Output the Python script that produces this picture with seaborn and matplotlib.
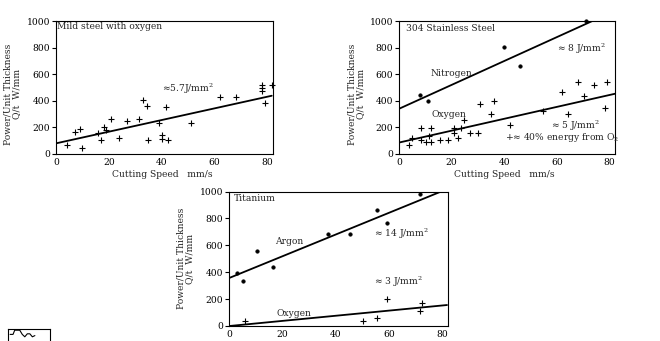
import matplotlib
matplotlib.use("Agg")
import matplotlib.pyplot as plt
import seaborn as sns
import pandas as pd

# ---------------- data ----------------
# Mild steel with oxygen
mild_x = [4, 7, 9, 10, 16, 17, 18, 19, 21, 24, 27, 31.5, 33, 34.5, 35, 39, 40, 40, 41.5, 42.5,
          51, 62, 68, 78, 78, 78, 79, 81.7]
mild_y = [65, 165, 185, 45, 160, 105, 205, 180, 265, 120, 245, 265, 405, 360, 105, 230, 145, 110,
          350, 105, 230, 428, 428, 520, 495, 470, 385, 520]
mild_fit_x = [0, 81.7]
mild_fit_y = [80, 438]

# 304 stainless steel
ss_n_x = [8, 11, 40, 46, 71]
ss_n_y = [440, 398, 805, 660, 1000]
ss_n_fit_x = [0, 73.4]
ss_n_fit_y = [340, 1000]
ss_o_x = [3.8, 5.1, 8.5, 8.5, 10.2, 11.4, 12.3, 12.3, 15.5, 18.7, 20.8, 20.8, 22.5, 23.7, 24.6,
          26.9, 30.1, 30.7, 34.8, 36, 42.2, 54.6, 61.8, 64.1, 67.9, 70.1, 73.9, 78.1, 79.1]
ss_o_y = [68, 118, 199, 106, 88, 136, 88, 199, 106, 106, 199, 156, 118, 199, 257,
          156, 156, 375, 300, 400, 217, 320, 468, 300, 544, 438, 519, 343, 544]
ss_o_fit_x = [0, 82]
ss_o_fit_y = [86, 453]

# Titanium
ti_ar_x = [2.8, 5, 10.3, 16.5, 36.9, 45.3, 55.6, 59.4, 71.6]
ti_ar_y = [392, 337, 560, 436, 684, 684, 862, 763, 981]
ti_ar_fit_x = [0, 79.6]
ti_ar_fit_y = [358, 1000]
ti_o_x = [5.9, 50.3, 55.3, 59.4, 71.5, 72.5]
ti_o_y = [35, 35, 62, 198, 111, 173]
ti_o_fit_x = [0, 81.8]
ti_o_fit_y = [0, 156]

x_ticks = [0, 20, 40, 60, 80]
y_ticks = [0, 200, 400, 600, 800, 1000]

sketch_x = [0.05, 0.12, 0.16, 0.2, 0.28, 0.34, 0.4, 0.46, 0.52, 0.58, 0.64]
sketch_y = [0.55, 0.55, 0.9, 0.9, 0.9, 0.55, 0.35, 0.6, 0.6, 0.35, 0.45]

# ---------------- style ----------------
sns.set_theme(style="white")
plt.rcParams["font.family"] = ["DejaVu Serif"]
plt.rcParams["mathtext.fontset"] = "dejavuserif"
FS = 6.6

fig = plt.figure(figsize=(6.6, 3.41), dpi=100)
fig.patch.set_facecolor("white")

ax1 = fig.add_axes([0.0841, 0.5484, 0.3288, 0.3900])
ax2 = fig.add_axes([0.6038, 0.5484, 0.3280, 0.3900])
ax3 = fig.add_axes([0.3470, 0.0440, 0.3311, 0.3944])

def style_axis(ax, ylab_x, ylab_y, xlabel=True):
    ax.set_xlim(-0.2, 82)
    ax.set_ylim(0, 1000)
    ax.set_xticks(x_ticks)
    ax.set_yticks(y_ticks)
    ax.set_xticklabels([str(v) for v in x_ticks])
    ax.set_yticklabels([str(v) for v in y_ticks])
    for s in ax.spines.values():
        s.set_visible(True)
        s.set_color("black")
        s.set_linewidth(0.8)
    ax.tick_params(axis="y", direction="out", length=3, width=0.8, pad=1,
                   labelsize=FS, colors="black", left=True)
    ax.tick_params(axis="x", direction="out", length=0, pad=3,
                   labelsize=FS, colors="black", bottom=True)
    ax.set_ylabel("Power/Unit Thickness\nQ/t  W/mm", fontsize=FS, linespacing=0.95)
    ax.yaxis.set_label_coords(ylab_x, ylab_y)
    if xlabel:
        ax.set_xlabel("Cutting Speed   mm/s", fontsize=FS)
        ax.xaxis.set_label_coords(0.49, -0.12)
    else:
        ax.set_xlabel("")
    ax.set_facecolor("white")

def cross(ax, x, y):
    sns.scatterplot(x=x, y=y, ax=ax, marker="+", s=16, color="black", linewidth=0.8,
                    legend=False, clip_on=False, zorder=3)

def dots(ax, x, y):
    sns.scatterplot(x=x, y=y, ax=ax, marker="o", s=7, color="black", edgecolor="black",
                    linewidth=0.3, legend=False, clip_on=False, zorder=3)

def fit(ax, x, y):
    sns.lineplot(x=x, y=y, ax=ax, color="black", linewidth=1.3, legend=False)

# Panel 1
cross(ax1, mild_x, mild_y)
fit(ax1, mild_fit_x, mild_fit_y)
style_axis(ax1, -0.158, 0.45)
ax1.text(0.005, 0.995, "Mild steel with oxygen", transform=ax1.transAxes, ha="left", va="top", fontsize=FS)
ax1.text(40.3, 489, r"≈5.7J/mm$^2$", ha="left", va="center", fontsize=FS)

# Panel 2
dots(ax2, ss_n_x, ss_n_y)
cross(ax2, ss_o_x, ss_o_y)
fit(ax2, ss_n_fit_x, ss_n_fit_y)
fit(ax2, ss_o_fit_x, ss_o_fit_y)
style_axis(ax2, -0.155, 0.45)
ax2.text(2.7, 941, "304 Stainless Steel", ha="left", va="center", fontsize=FS)
ax2.text(11.8, 604, "Nitrogen", ha="left", va="center", fontsize=FS)
ax2.text(60.1, 790, r"≈ 8 J/mm$^2$", ha="left", va="center", fontsize=FS)
ax2.text(12.4, 294, "Oxygen", ha="left", va="center", fontsize=FS)
ax2.text(57.8, 211, r"≈ 5 J/mm$^2$", ha="left", va="center", fontsize=FS)
ax2.text(40.4, 126, r"+≈ 40% energy from O$_2$", ha="left", va="center", fontsize=FS)

# Panel 3
dots(ax3, ti_ar_x, ti_ar_y)
cross(ax3, ti_o_x, ti_o_y)
fit(ax3, ti_ar_fit_x, ti_ar_fit_y)
fit(ax3, ti_o_fit_x, ti_o_fit_y)
style_axis(ax3, -0.16, 0.5, xlabel=False)
ax3.text(1.6, 949, "Titanium", ha="left", va="center", fontsize=FS)
ax3.text(17.1, 627, "Argon", ha="left", va="center", fontsize=FS)
ax3.text(54.3, 689, r"≈ 14 J/mm$^2$", ha="left", va="center", fontsize=FS)
ax3.text(54.3, 329, r"≈ 3 J/mm$^2$", ha="left", va="center", fontsize=FS)
ax3.text(17.6, 94, "Oxygen", ha="left", va="center", fontsize=FS)

# Small cropped sketch at bottom-left
ax4 = fig.add_axes([8 / 660, 0.0, 42 / 660, 12 / 341])
sns.lineplot(x=sketch_x, y=sketch_y, ax=ax4, color="black", linewidth=0.8, legend=False)
ax4.set_xlim(0, 1)
ax4.set_ylim(0, 1)
ax4.set_xticks([])
ax4.set_yticks([])
for k, s in ax4.spines.items():
    s.set_visible(k != "bottom")
    s.set_color("black")
    s.set_linewidth(0.8)

fig.savefig("out.png", dpi=100, facecolor="white")
